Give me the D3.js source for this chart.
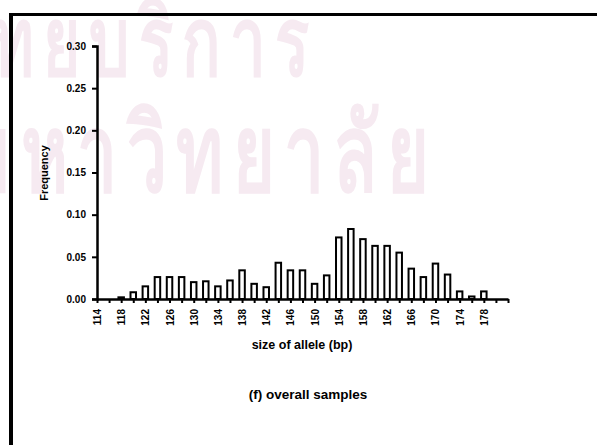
<!DOCTYPE html>
<html>
<head>
<meta charset="utf-8">
<script src="https://cdn.jsdelivr.net/npm/d3@7"></script>
<style>
  body { margin: 0; background: #fff; }
  text { font-family: "Liberation Sans", Arial, sans-serif; font-weight: bold; }
</style>
</head>
<body>
<div id="chart"></div>
<script>
// allele sizes (bp) and their frequency
const sizes = [114, 116, 118, 120, 122, 124, 126, 128, 130, 132, 134, 136, 138, 140, 142, 144, 146,
               148, 150, 152, 154, 156, 158, 160, 162, 164, 166, 168, 170, 172, 174, 176, 178];
const freqs = [0.000, 0.000, 0.002, 0.008, 0.015, 0.026, 0.026, 0.026, 0.020, 0.021, 0.015, 0.022, 0.034,
               0.018, 0.014, 0.043, 0.034, 0.034, 0.018, 0.028, 0.073, 0.083, 0.071, 0.063, 0.063,
               0.055, 0.036, 0.026, 0.042, 0.029, 0.009, 0.003, 0.009];
const xTickLabels = [114, 118, 122, 126, 130, 134, 138, 142, 146, 150, 154, 158, 162, 166, 170, 174, 178];
const yTickLabels = [0, 0.05, 0.10, 0.15, 0.20, 0.25, 0.30];

const W = 597, H = 445;
const svg = d3.select("#chart").append("svg")
    .attr("width", W)
    .attr("height", H);

// faint watermark of the scanned page
const wm = svg.append("g").attr("fill", "#f6eaf1")
    .style("font-family", "'Noto Sans Thai', 'Noto Sans', sans-serif")
    .style("font-weight", "normal")
    .style("letter-spacing", "14px");
wm.append("text")
    .attr("transform", "translate(318,75) scale(0.67,1)")
    .attr("text-anchor", "end")
    .style("font-size", "95px")
    .text("ศูนย์วิทยบริการ");
wm.append("text")
    .attr("transform", "translate(438,191) scale(0.67,1)")
    .attr("text-anchor", "end")
    .style("font-size", "107px")
    .text("จุฬาลงกรณ์มหาวิทยาลัย");

// page frame (left and top edge)
svg.append("rect").attr("x", 9).attr("y", 13).attr("width", W).attr("height", 3).attr("fill", "#000");
svg.append("rect").attr("x", 9).attr("y", 13).attr("width", 4).attr("height", H).attr("fill", "#000");

const x = d3.scaleLinear().domain([114, 182]).range([97, 508]);
const y = d3.scaleLinear().domain([0, 0.30]).range([299, 46]);

// bars
const bw = 5.5;
svg.selectAll(".bar")
    .data(sizes)
    .enter().append("rect")
    .attr("class", "bar")
    .attr("x", (d, i) => x(d) - bw / 2)
    .attr("width", bw)
    .attr("y", (d, i) => y(freqs[i]))
    .attr("height", (d, i) => y(0) - y(freqs[i]))
    .attr("fill", "#fff")
    .attr("stroke", "#000")
    .attr("stroke-width", 2);

// y axis
const yAxis = svg.append("g")
    .attr("transform", "translate(" + x(114) + ",0)")
    .call(d3.axisLeft(y).tickValues(yTickLabels).tickFormat(d3.format(".2f")).tickSize(5).tickPadding(6));
yAxis.select(".domain").attr("stroke-width", 2.5);
yAxis.selectAll(".tick line").attr("stroke-width", 2);
yAxis.selectAll("text").style("font-size", "10px").style("font-weight", "bold");

// x axis: ticks every 2 bp, labels every 4 bp
const xTicks = d3.range(114, 183, 2);
const xAxis = svg.append("g")
    .attr("transform", "translate(0," + y(0) + ")")
    .call(d3.axisBottom(x).tickValues(xTicks).tickSize(4).tickSizeOuter(0)
        .tickFormat(d => xTickLabels.includes(d) ? d : ""));
xAxis.select(".domain").attr("stroke-width", 2.5);
xAxis.selectAll(".tick line").attr("stroke-width", 2);
xAxis.selectAll("text")
    .style("font-size", "10px")
    .style("font-weight", "bold")
    .attr("text-anchor", "end")
    .attr("transform", "rotate(-90)")
    .attr("x", -10)
    .attr("y", 0)
    .attr("dy", "0.35em");

// axis titles
svg.append("text")
    .attr("transform", "translate(48,173) rotate(-90)")
    .attr("text-anchor", "middle")
    .style("font-size", "11px")
    .text("Frequency");

svg.append("text")
    .attr("x", 302).attr("y", 349)
    .attr("text-anchor", "middle")
    .style("font-size", "12.5px")
    .text("size of allele (bp)");

svg.append("text")
    .attr("x", 308).attr("y", 399)
    .attr("text-anchor", "middle")
    .style("font-size", "13.5px")
    .text("(f)  overall samples");
</script>
</body>
</html>
